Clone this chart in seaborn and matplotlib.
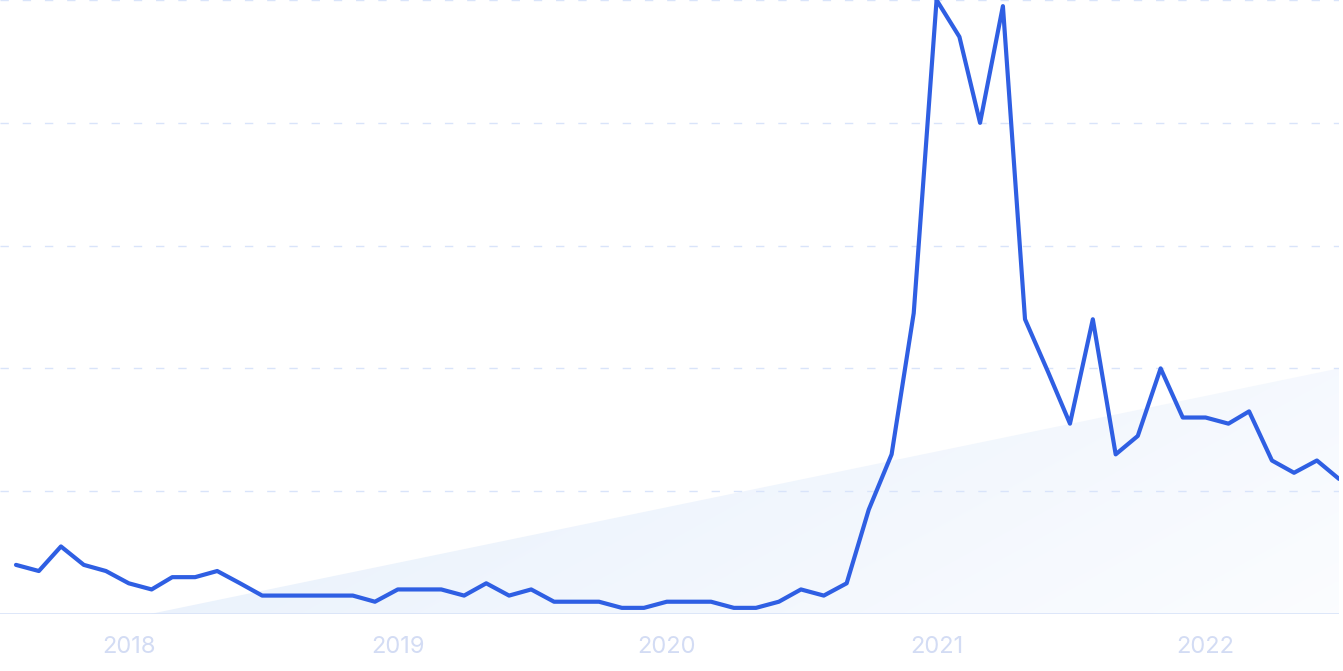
import numpy as np
import pandas as pd
import matplotlib.pyplot as plt
import matplotlib.dates as mdates
from matplotlib.patches import Polygon
import seaborn as sns

# monthly interest, Aug 2017 - Jul 2022
start_month = '2017-08-01'
interest = [8, 7, 11, 8, 7, 5, 4, 6, 6, 7,
            5, 3, 3, 3, 3, 3, 2, 4, 4, 4,
            3, 5, 3, 4, 2, 2, 2, 1, 1, 2,
            2, 2, 1, 1, 2, 4, 3, 5, 17, 26,
            49, 100, 94, 80, 99, 48, 39.5, 31, 48, 26,
            29, 40, 32, 32, 31, 33, 25, 23, 25, 22]
year_labels = ['2018', '2019', '2020', '2021', '2022']
grid_levels = [20, 40, 60, 80, 100]

df = pd.DataFrame({
    'month': pd.date_range(start_month, periods=len(interest), freq='MS'),
    'interest': interest,
})

sns.set_theme(style='white')
plt.rcParams['font.family'] = ['Inter', 'DejaVu Sans']

fig = plt.figure(figsize=(13.43, 6.71), dpi=100)
ax = fig.add_axes([0, 57 / 671, 1339 / 1343, 614 / 671])

# light gradient wedge in the background
tri = Polygon([(150 / 1339, 0), (1, 0.4), (1, 0)], closed=True,
              transform=ax.transAxes, facecolor='none', edgecolor='none')
ax.add_patch(tri)
gx, gy = np.meshgrid(np.linspace(0, 1, 300), np.linspace(0, 1, 120))
t = np.clip(0.75 * gx + 0.25 * gy, 0, 1) ** 0.9
c0 = np.array([0.886, 0.929, 0.984])
c1 = np.array([0.985, 0.990, 1.0])
img = c0[None, None, :] * (1 - t[..., None]) + c1[None, None, :] * t[..., None]
im = ax.imshow(img, extent=[0, 1, 0, 0.4], transform=ax.transAxes,
               aspect='auto', origin='upper', zorder=0, interpolation='bilinear')
im.set_clip_path(tri)

for lv in grid_levels:
    ax.axhline(lv, color='#d9e4fa', lw=1, ls=(0, (6, 10)), zorder=1)
ax.axhline(0, color='#d8e3f8', lw=1.2, zorder=1)

sns.lineplot(data=df, x='month', y='interest', ax=ax, color='#2f5fe3',
             lw=3.0, zorder=3)

first = mdates.date2num(df['month'].iloc[0])
last = mdates.date2num(df['month'].iloc[-1])
ax.set_xlim(first - 21.7, last)
ax.set_ylim(0, 100)

ax.set_xticks([mdates.date2num(pd.Timestamp(f'{y}-01-01')) for y in year_labels])
ax.set_xticklabels(year_labels)
ax.tick_params(axis='x', length=0, pad=16, labelsize=17, labelcolor='#d3dcf4')
ax.set_yticks([])
ax.set_xlabel('')
ax.set_ylabel('')
for s in ax.spines.values():
    s.set_visible(False)

fig.savefig('out.png', dpi=100)
